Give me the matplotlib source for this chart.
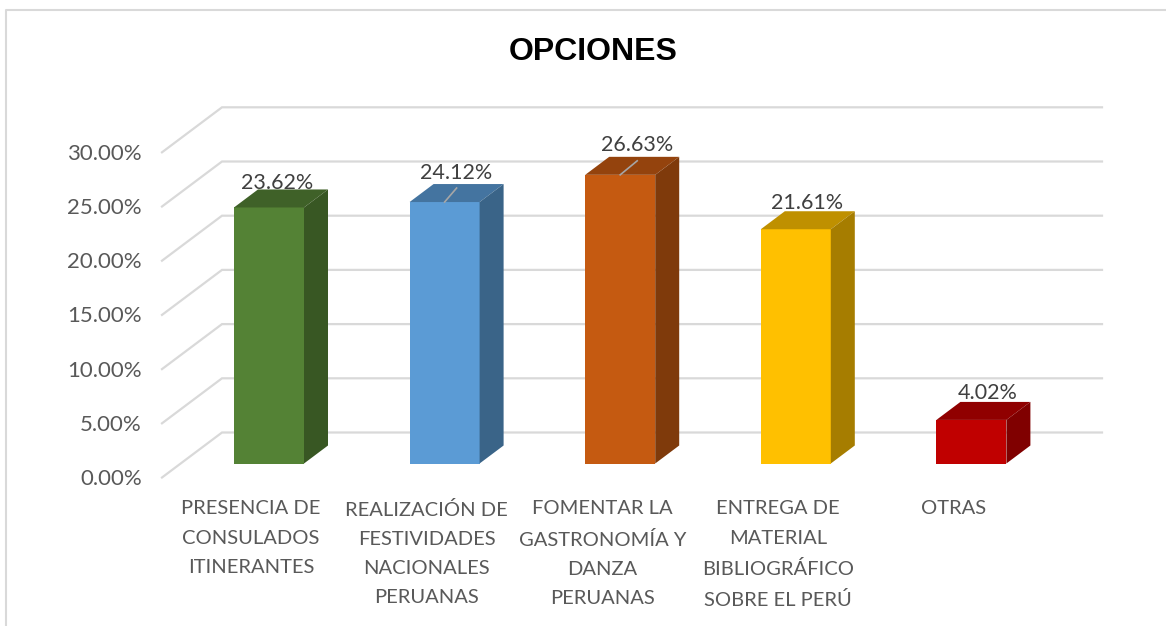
import matplotlib
matplotlib.use("Agg")
import matplotlib.pyplot as plt
from matplotlib.patches import Polygon

categories = [
    "PRESENCIA DE\nCONSULADOS\nITINERANTES",
    "REALIZACIÓN DE\nFESTIVIDADES\nNACIONALES\nPERUANAS",
    "FOMENTAR LA\nGASTRONOMÍA Y\nDANZA\nPERUANAS",
    "ENTREGA DE\nMATERIAL\nBIBLIOGRÁFICO\nSOBRE EL PERÚ",
    "OTRAS",
]
values = [23.62, 24.12, 26.63, 21.61, 4.02]
ticks = [0, 5, 10, 15, 20, 25, 30]

front_colors = ["#548235", "#5B9BD5", "#C55A11", "#FFC000", "#C00000"]
top_colors = ["#3F6128", "#4474A0", "#94430D", "#BF9000", "#900000"]
side_colors = ["#385723", "#3A6488", "#7F3A0B", "#A67D00", "#800000"]

W, H = 1166, 626
x_px = 175.6   # pixels per category
y_px = 10.84   # pixels per percent
x0_px, y0_px = 269, 463.5

plt.rcParams["font.family"] = ["Lato", "DejaVu Sans"]

fig = plt.figure(figsize=(W / 100, H / 100), dpi=100)
ax = fig.add_axes([0, 0, 1, 1])
ax.set_xlim(-x0_px / x_px, (W - x0_px) / x_px)
ax.set_ylim((y0_px - H) / y_px, y0_px / y_px)
ax.axis("off")

def px(dx):
    return dx / x_px

def py(dy):
    return dy / y_px

# chart frame, open on the right
ax.plot([px(6 - x0_px), px(6 - x0_px), px(W - x0_px)],
        [py(y0_px - H), py(y0_px - 10), py(y0_px - 10)],
        color="#D9D9D9", lw=1.5, zorder=1)

# gridlines on the wall + floor diagonal
for t in ticks:
    ax.plot([px(162 - x0_px), px(222 - x0_px), px(1102 - x0_px)],
            [t - py(14), t + py(31), t + py(31)],
            color="#D9D9D9", lw=1.6, zorder=1, solid_joinstyle="miter")
    ax.text(px(142 - x0_px), t - py(15.5), f"{t:.2f}%", ha="right", va="center",
            fontsize=16, color="#595959")

bar_w = px(70)
dx, dy = px(24), py(18)
label_dx = [8, 12, 17, 11, 16]
label_dy = [24, 29, 30, 26, 27]

for i, v in enumerate(values):
    left = i - bar_w / 2
    right = i + bar_w / 2
    ax.add_patch(Polygon([(left, 0), (right, 0), (right, v), (left, v)],
                         fc=front_colors[i], ec="none", zorder=3))
    ax.add_patch(Polygon([(left, v), (right, v), (right + dx, v + dy), (left + dx, v + dy)],
                         fc=top_colors[i], ec="none", zorder=3))
    ax.add_patch(Polygon([(right, 0), (right + dx, dy), (right + dx, v + dy), (right, v)],
                         fc=side_colors[i], ec="none", zorder=3))
    ax.text(i + px(label_dx[i]), v + py(label_dy[i]), f"{v:.2f}%", ha="center", va="center",
            fontsize=15.5, color="#404040", zorder=4)
    ax.text(i - px(18), py(-37), categories[i], ha="center", va="top",
            fontsize=14.5, color="#595959", linespacing=1.88, zorder=4)

# leader lines for the two labels that sit away from their bars
for i, end_dx in ((1, 12), (2, 17)):
    ax.plot([i, i + px(end_dx)], [values[i], values[i] + py(14)],
            color="#A6A6A6", lw=1.2, zorder=4)

ax.text(px(593 - x0_px), py(y0_px - 52), "OPCIONES", ha="center", va="center",
        family=["Liberation Sans"], fontweight="bold", fontsize=23, color="black")

fig.savefig("out.png", dpi=100)
